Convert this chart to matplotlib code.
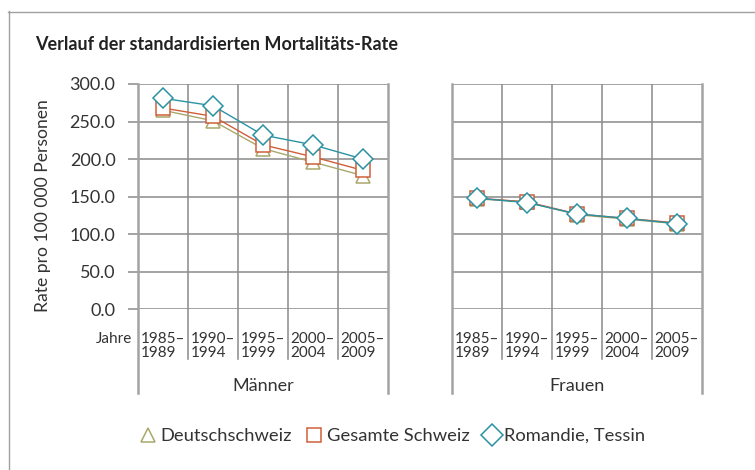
import numpy as np
import matplotlib
matplotlib.use("Agg")
import matplotlib.pyplot as plt
from matplotlib.lines import Line2D

plt.rcParams['font.family'] = ['Lato', 'DejaVu Sans']

# Daten
perioden = ["1985–\n1989", "1990–\n1994", "1995–\n1999", "2000–\n2004", "2005–\n2009"]
gruppen = ["Männer", "Frauen"]
serien = ["Deutschschweiz", "Gesamte Schweiz", "Romandie, Tessin"]

deutsch_m = [265, 251, 214, 196, 178]
gesamt_m = [268, 257, 219, 203, 185]
romandie_m = [281, 271, 232, 219, 200]

deutsch_f = [147, 143, 126, 120, 114]
gesamt_f = [148, 143, 127, 121, 115]
romandie_f = [148, 142, 127, 121, 114]

y_ticks = [0, 50, 100, 150, 200, 250, 300]

farben = ["#a9a86c", "#cf5f3a", "#2a93a3"]
marker = ["^", "s", "D"]
msizes = [9.5, 10, 10.5]

W, H = 755, 470
fig = plt.figure(figsize=(W / 100, H / 100), dpi=100)

# Rahmen (nur links und oben sichtbar)
fig.add_artist(Line2D([8.5 / W, 8.5 / W], [0, 1 - 11 / H], color="#a0a0a0", lw=1.0, transform=fig.transFigure))
fig.add_artist(Line2D([8 / W, 1], [1 - 11.5 / H, 1 - 11.5 / H], color="#a0a0a0", lw=1.0, transform=fig.transFigure))

fig.text(35 / W, 1 - 45 / H, "Verlauf der standardisierten Mortalitäts-Rate",
         fontsize=13, fontweight="bold", color="#222222", va="center", ha="left")

fig.text(43 / W, 1 - 206 / H, "Rate pro 100 000 Personen", rotation=90,
         fontsize=12.6, color="#333333", va="center", ha="center")

y0, y300 = 309.3, 84.0
ph = (y0 - y300) / H
pb = 1 - y0 / H
panel_x = [138, 452]
pw = 250

daten = [[deutsch_m, gesamt_m, romandie_m], [deutsch_f, gesamt_f, romandie_f]]
grid_c = "#8a8a8a"
edge_c = "#a3a3a3"
txt_c = "#333333"

for k, (px, gruppe) in enumerate(zip(panel_x, gruppen)):
    ax = fig.add_axes([px / W, pb, pw / W, ph])
    ax.set_xlim(0, 5)
    ax.set_ylim(0, 300)
    for s in ax.spines.values():
        s.set_visible(False)
    ax.set_xticks([])
    ax.set_yticks(y_ticks)
    if k == 0:
        ax.set_yticklabels(["%.1f" % v for v in y_ticks], fontsize=13, color=txt_c)
        ax.tick_params(axis="y", length=7.2, width=1.1, color=grid_c, pad=9)
    else:
        ax.tick_params(axis="y", length=0, labelleft=False)
    for v in y_ticks:
        ax.axhline(v, color=grid_c, lw=1.1, zorder=1)
    for i in range(1, 5):
        ax.axvline(i, color=grid_c, lw=1.1, zorder=1)
    tr = ax.get_xaxis_transform()
    # Trennlinien unter der Achse
    for i in range(1, 5):
        ax.plot([i, i], [0, -0.22], color=grid_c, lw=1.1, transform=tr, clip_on=False)
    for i in [0, 5]:
        ax.plot([i, i], [1, -0.371], color=edge_c, lw=1.8, transform=tr, clip_on=False)

    xs = np.arange(len(perioden)) + 0.5
    for j in range(3):
        ax.plot(xs, daten[k][j], color=farben[j], lw=1.0, marker=marker[j],
                ms=msizes[j], mfc="white", mec=farben[j], mew=1.1, zorder=3 + j,
                clip_on=False)

    for i, p in enumerate(perioden):
        ax.text(i + 0.05, (y0 - 346) / (y0 - y300), p, transform=tr, fontsize=11,
                color=txt_c, ha="left", va="center", linespacing=0.92)
    if k == 0:
        ax.text(-0.12, (y0 - 339) / (y0 - y300), "Jahre", transform=tr, fontsize=11,
                color=txt_c, ha="right", va="center")
    ax.text(2.5, (y0 - 386) / (y0 - y300), gruppe, transform=tr, fontsize=13,
            color=txt_c, ha="center", va="center")

handles = [Line2D([], [], ls="none", marker=marker[j], ms=msizes[j] + 0.5, mfc="white",
                  mec=farben[j], mew=1.1) for j in range(3)]
fig.legend(handles, serien, loc="center", bbox_to_anchor=(392 / W, 1 - 436 / H),
           ncol=3, frameon=False, fontsize=13.2, handlelength=1.0, handletextpad=0.2,
           columnspacing=0.7, labelcolor=txt_c)

fig.savefig("out.png", dpi=100)
